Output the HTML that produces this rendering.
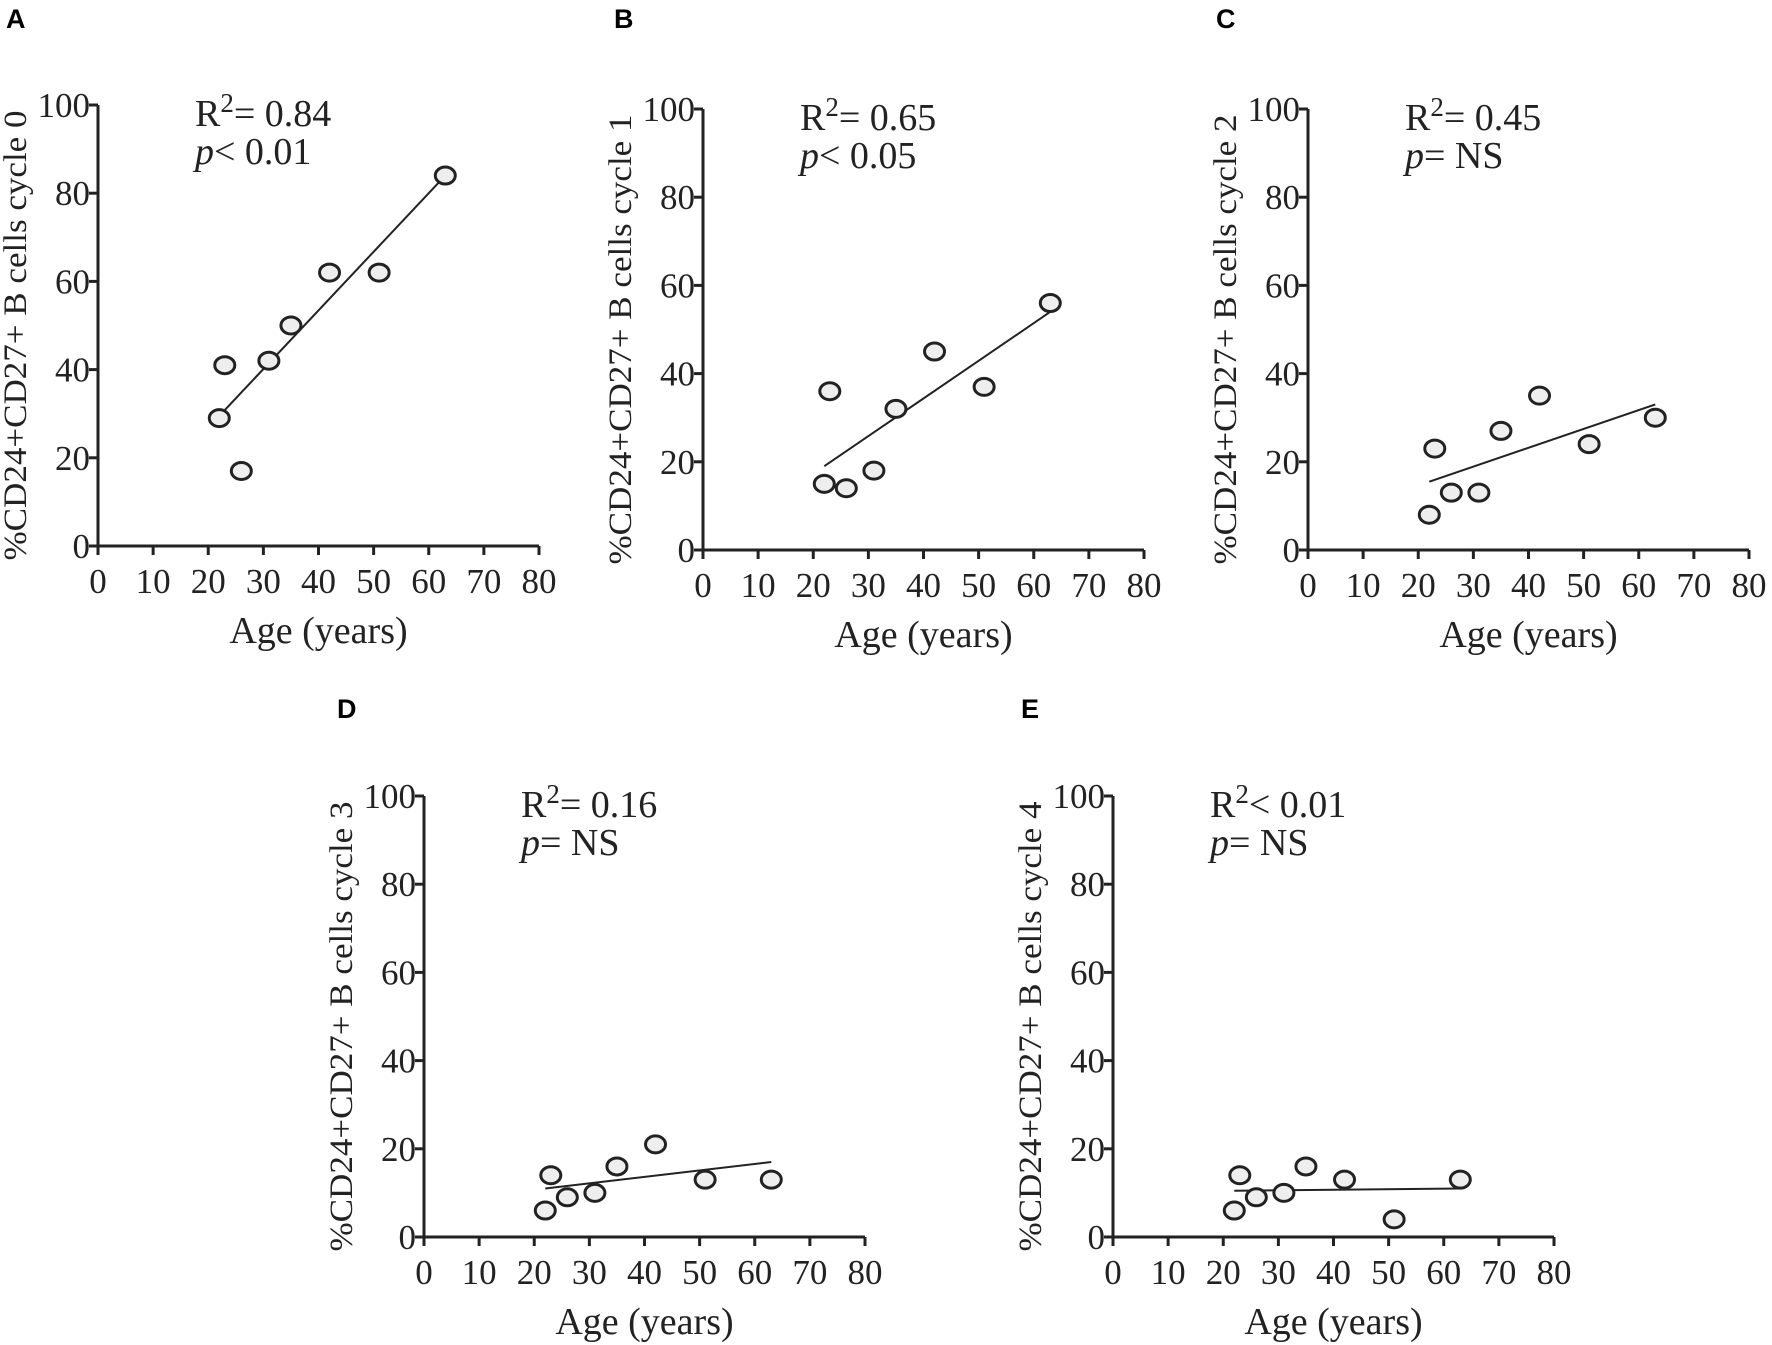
<!DOCTYPE html>
<html><head><meta charset="utf-8"><style>
body{margin:0;background:#fff}
svg{display:block}
text{font-family:"Liberation Serif",serif;fill:#222}
.lab{font-family:"Liberation Sans",sans-serif;font-weight:bold;font-size:27px;fill:#000}
</style></head><body>
<svg id="fig" width="1772" height="1345" viewBox="0 0 1772 1345" xmlns="http://www.w3.org/2000/svg"></svg>
<script>
const ages = [22, 23, 26, 31, 35, 42, 51, 63];
const cycle0 = [29, 41, 17, 42, 50, 62, 62, 84];
const cycle1 = [15, 36, 14, 18, 32, 45, 37, 56];
const cycle2 = [8, 23, 13, 13, 27, 35, 24, 30];
const cycle3 = [6, 14, 9, 10, 16, 21, 13, 13];
const cycle4 = [6, 14, 9, 10, 16, 13, 4, 13];
const fitA = [29.5, 84]; const fitB = [19, 54]; const fitC = [15.5, 33]; const fitD = [11, 17]; const fitE = [10.5, 11];
const xTicks = [0, 10, 20, 30, 40, 50, 60, 70, 80];
const yTicks = [0, 20, 40, 60, 80, 100];
const r2Labels = ["= 0.84", "= 0.65", "= 0.45", "= 0.16", "< 0.01"];
const pLabels = ["< 0.01", "< 0.05", "= NS", "= NS", "= NS"];
const letters = ["A", "B", "C", "D", "E"];
const panels = [
 {ox:98, oy:546, ys:cycle0, fit:fitA, c:0, lx:6},
 {ox:703, oy:550, ys:cycle1, fit:fitB, c:1, lx:614},
 {ox:1308, oy:550, ys:cycle2, fit:fitC, c:2, lx:1216},
 {ox:424, oy:1237, ys:cycle3, fit:fitD, c:3, lx:337},
 {ox:1113, oy:1237, ys:cycle4, fit:fitE, c:4, lx:1021}
];
const W = 441, H = 441;
const svg = document.getElementById('fig');
const NS = 'http://www.w3.org/2000/svg';
function mk(tag, attrs, parent){const e=document.createElementNS(NS,tag);for(const k in attrs)e.setAttribute(k,attrs[k]);(parent||svg).appendChild(e);return e;}
panels.forEach((p,i)=>{
 const g = mk('g',{});
 
 
 const sx = v => p.ox + v/80*W;
 const sy = v => p.oy - v/100*H;
 const L = mk('text',{x:p.lx, y:(i<3?28:718), class:'lab'}, g); L.textContent = letters[i];
 
 
 const ax = mk('path',{d:`M${p.ox} ${sy(100)} V${p.oy} H${sx(80)}`, stroke:'#222','stroke-width':3, fill:'none'}, g);
 
 
 xTicks.forEach(t=>{
  mk('line',{x1:sx(t),x2:sx(t),y1:p.oy,y2:p.oy+9,stroke:'#222','stroke-width':3},g);
  const tx = mk('text',{x:sx(t),y:p.oy+47,'text-anchor':'middle','font-size':35},g); tx.textContent=t;
  
  
 });
 yTicks.forEach(t=>{
  mk('line',{x1:p.ox-9,x2:p.ox,y1:sy(t),y2:sy(t),stroke:'#222','stroke-width':3},g);
  const ty = mk('text',{x:p.ox-8,y:sy(t)+12,'text-anchor':'end','font-size':35},g); ty.textContent=t;
  
  
 });
 const xt = mk('text',{x:p.ox+W/2,y:p.oy+97,'text-anchor':'middle','font-size':38},g); xt.textContent='Age (years)';
 
 
 const cy = p.oy - H/2 + 10;
 const yt = mk('text',{x:0,y:0,'text-anchor':'middle','font-size':33,textLength:450,lengthAdjust:'spacingAndGlyphs',transform:`translate(${p.ox-72},${cy}) rotate(-90)`},g);
 yt.textContent='%CD24+CD27+ B cells cycle '+p.c;
 
 
 const fl = mk('line',{x1:sx(22),y1:sy(p.fit[0]),x2:sx(63),y2:sy(p.fit[1]),stroke:'#222','stroke-width':2},g);
 
 
 ages.forEach((a,j)=>{
  const c = mk('ellipse',{cx:sx(a),cy:sy(p.ys[j]),rx:10,ry:8.5,fill:'#eee',stroke:'#222','stroke-width':3},g);
  
  
 });
 const ann = mk('text',{x:p.ox+97,y:sy(100)+21,'font-size':38},g);
 ann.innerHTML = `R<tspan font-size="27" dy="-14">2</tspan><tspan dy="14">${r2Labels[i]}</tspan>`;
 
 
 const pl = mk('text',{x:p.ox+97,y:sy(100)+59,'font-size':38},g);
 pl.innerHTML = `<tspan font-style="italic">p</tspan>${pLabels[i]}`;
 
 
});
</script>
</body></html>
